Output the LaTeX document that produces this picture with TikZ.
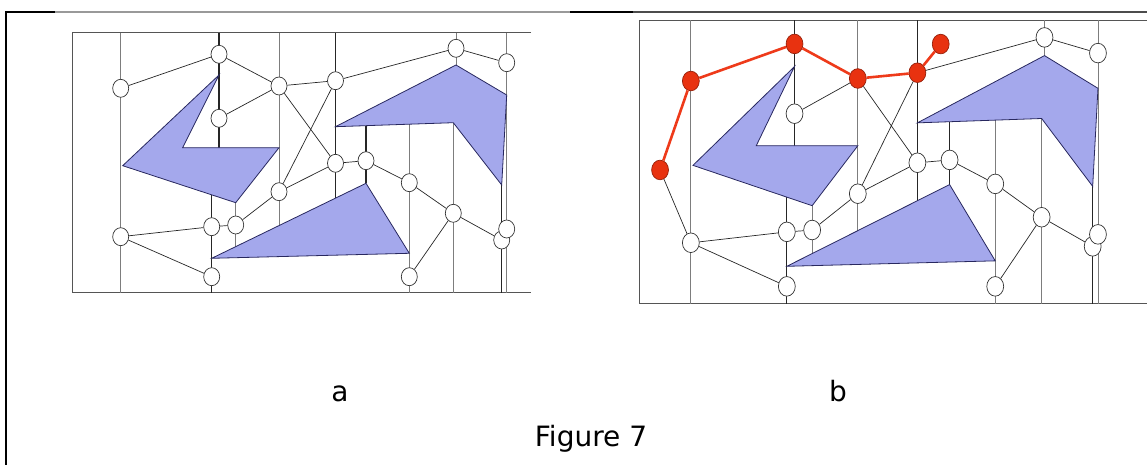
\documentclass[tikz,border=0pt]{standalone}
\usepackage{fontspec}
\setmainfont{DejaVu Sans}
\usetikzlibrary{shapes.geometric}

\definecolor{obstfill}{RGB}{164,168,236}
\definecolor{obstedge}{RGB}{40,40,95}
\definecolor{pathred}{RGB}{238,58,26}
\definecolor{nodered}{RGB}{232,50,16}
\definecolor{nodeedge}{RGB}{150,32,10}
\definecolor{gridgrey}{RGB}{125,125,125}
\definecolor{framegrey}{RGB}{85,85,85}

\tikzset{
  outerframe/.style={draw=black, line width=2bp},
  panelframe/.style={draw=framegrey, line width=1bp},
  freeline/.style={draw=gridgrey, line width=0.8bp},
  wallline/.style={draw=black!85, line width=1.3bp},
  obstacle/.style={fill=obstfill, draw=obstedge, line width=0.8bp},
  vertex/.style={ellipse, draw=black!80, fill=white, line width=0.7bp,
    minimum width=16bp, minimum height=18bp, inner sep=0pt},
  pathvertex/.style={vertex, fill=nodered, draw=nodeedge},
  roadedge/.style={draw=black!85, line width=0.7bp},
  pathedge/.style={draw=pathred, line width=2.6bp},
  labeltext/.style={font=\fontsize{28bp}{34bp}\selectfont, anchor=base, inner sep=0pt},
}

% workspace walls, vertical cell decomposition and obstacles
% #1 = x of the cut-off right end of the workspace
\newcommand{\cellscene}[1]{%
  \draw[panelframe] (#1,32.7) -- (72.3,32.7) -- (72.3,292.7) -- (#1,292.7);
  \draw[freeline] (120.7,32.7) -- (120.7,292.7);
  \draw[wallline] (219,32.7) -- (219,147.7);
  \draw[wallline] (211.7,194.8) -- (211.7,292.7);
  \draw[freeline] (235.7,202.7) -- (235.7,246.6);
  \draw[freeline] (279,32.7) -- (279,225.6);
  \draw[wallline] (335.5,32.7) -- (335.5,198.4);
  \draw[wallline] (366,125.7) -- (366,183.3);
  \draw[freeline] (409.3,124.2) -- (409.3,292.7);
  \draw[freeline] (453.3,122.7) -- (453.3,292.7);
  \draw[freeline] (456,32.7) -- (456,65);
  \draw[freeline] (506.7,32.7) -- (506.7,292.7);
  \draw[wallline] (501.7,185) -- (501.7,292.7);
  \filldraw[obstacle] (219,75) -- (182.7,147.7) -- (279,147.7) -- (235.7,202.7) -- (122.7,165.7) -- cycle;
  \filldraw[obstacle] (335.5,126.7) -- (456,65) -- (506.7,95) -- (501.7,185) -- (453.3,122.7) -- cycle;
  \filldraw[obstacle] (211.7,258.3) -- (366,183.3) -- (409.3,253.3) -- cycle;
}

% roadmap vertices; #1 = name prefix, #2 = style of the vertices on the found route
\newcommand{\roadvertices}[2]{%
  \node[#2]    (#1n1)  at (120.7,88.3) {};
  \node[#2]    (#1n2)  at (219,54.3) {};
  \node[vertex] (#1n3)  at (219,118.3) {};
  \node[#2]    (#1n4)  at (279,86) {};
  \node[#2]    (#1n5)  at (335.5,80.7) {};
  \node[vertex] (#1n6)  at (456,48.3) {};
  \node[vertex] (#1n7)  at (506.7,62.7) {};
  \node[vertex] (#1n8)  at (335.5,163.3) {};
  \node[vertex] (#1n9)  at (366,160.7) {};
  \node[vertex] (#1n10) at (409.3,182.7) {};
  \node[vertex] (#1n11) at (453.3,213.3) {};
  \node[vertex] (#1n13) at (501.7,240) {};
  \node[vertex] (#1n12) at (506.7,229) {};
  \node[vertex] (#1n14) at (279,191.7) {};
  \node[vertex] (#1n15) at (235.7,225) {};
  \node[vertex] (#1n16) at (211.7,226.7) {};
  \node[vertex] (#1n17) at (120.7,236.7) {};
  \node[vertex] (#1n18) at (211.7,276.7) {};
  \node[vertex] (#1n19) at (409.3,276.7) {};
}

% roadmap edges shared by both panels
\newcommand{\roadedges}[1]{%
  \draw[roadedge] (#1n3) -- (#1n4);
  \draw[roadedge] (#1n5) -- (#1n6);
  \draw[roadedge] (#1n6) -- (#1n7);
  \draw[roadedge] (#1n4) -- (#1n8);
  \draw[roadedge] (#1n5) -- (#1n14);
  \draw[roadedge] (#1n8) -- (#1n9);
  \draw[roadedge] (#1n9) -- (#1n10);
  \draw[roadedge] (#1n10) -- (#1n11);
  \draw[roadedge] (#1n11) -- (#1n13);
  \draw[roadedge] (#1n11) -- (#1n19);
  \draw[roadedge] (#1n14) -- (#1n8);
  \draw[roadedge] (#1n14) -- (#1n15);
  \draw[roadedge] (#1n15) -- (#1n16);
  \draw[roadedge] (#1n16) -- (#1n17);
  \draw[roadedge] (#1n17) -- (#1n18);
}

\begin{document}
\begin{tikzpicture}[x=1bp, y=-1bp]
  \useasboundingbox (0,0) rectangle (1147,465);

  % page frame
  \draw[outerframe] (6,465) -- (6,12) -- (55,12);
  \draw[outerframe, draw=black!40] (55,12) -- (570,12);
  \draw[outerframe] (570,12) -- (633,12);
  \draw[outerframe, draw=black!70, line width=1.4bp] (633,12) -- (1147,12);

  % panel a: the roadmap
  \cellscene{531}
  \roadvertices{a}{vertex}
  \roadedges{a}
  \draw[roadedge] (an1) -- (an2);
  \draw[roadedge] (an2) -- (an4);
  \draw[roadedge] (an4) -- (an5);

  % panel b: the roadmap with the route from start to goal
  \begin{scope}[shift={(639.8,20.4)}, xscale=1.0547, yscale=1.09,
                shift={(-72.3,-32.7)}, transform shape]
    \cellscene{560}
    \roadvertices{b}{pathvertex}
    \node[pathvertex] (bstart) at (91.5,169.9) {};
    \node[pathvertex] (bgoal)  at (357.6,54.4) {};
    \roadedges{b}
    \draw[roadedge] (bstart) -- (bn17);
    \draw[pathedge] (bstart) -- (bn1);
    \draw[pathedge] (bn1) -- (bn2);
    \draw[pathedge] (bn2) -- (bn4);
    \draw[pathedge] (bn4) -- (bn5);
    \draw[pathedge] (bn5) -- (bgoal);
  \end{scope}

  % captions
  \node[labeltext] (capa) at (340,402) {a};
  \node[labeltext] (capb) at (838,402) {b};
  \node[labeltext] (capfig) at (591,447) {Figure 7};
\end{tikzpicture}
\end{document}
